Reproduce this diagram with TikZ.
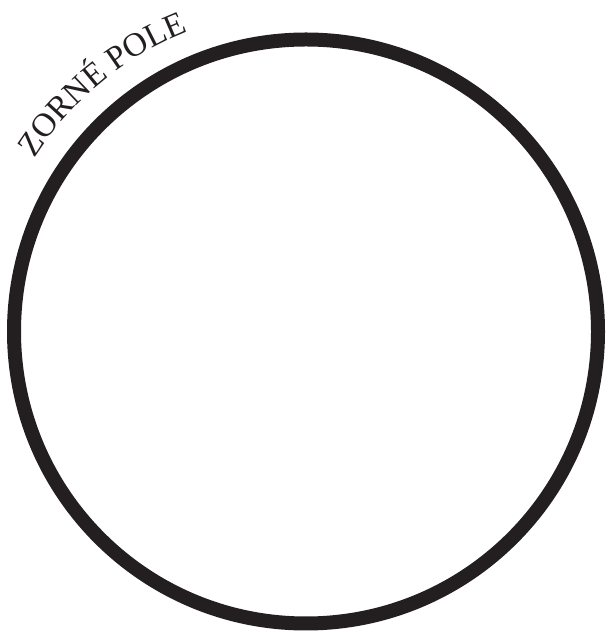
\documentclass[tikz,border=0pt]{standalone}
\usepackage{fontspec}
\setmainfont{Liberation Serif}
\usetikzlibrary{decorations.text}
\definecolor{ink}{HTML}{231F20}
\begin{document}
\begin{tikzpicture}[x=0.02cm, y=0.02cm]
        \tikzstyle{rim}=[draw=ink, line width=0.28cm]
        \tikzstyle{caption}=[decorate, decoration={text along path, text align=left,
            text={|\fontsize{19}{19}\selectfont\color{ink}|ZORNÉ POLE}}]

        \useasboundingbox (0,0) rectangle (605,632);
        \coordinate (c) at (306,300.5);

        \draw[rim] (c) circle[radius=292];
        \path[caption] (c) ++(147.5:322) arc[start angle=147.5, end angle=100, radius=322];
    \end{tikzpicture}
\end{document}
